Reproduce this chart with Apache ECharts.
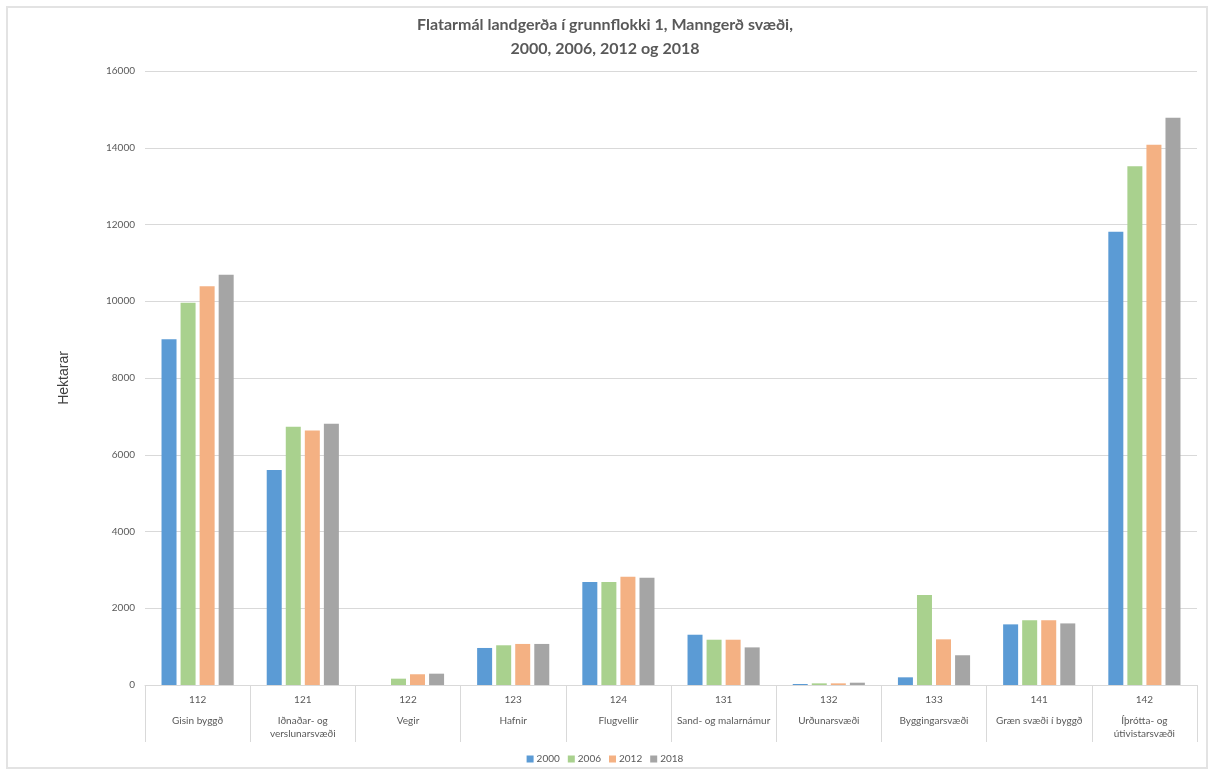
<!DOCTYPE html>
<html>
<head>
<meta charset="utf-8">
<script src="https://cdn.jsdelivr.net/npm/echarts@6/dist/echarts.min.js"></script>
<style>
html,body{margin:0;padding:0;background:#fff;}
#chart{width:1210px;height:770px;}
</style>
</head>
<body>
<div id="chart"></div>
<script>
const codes = ['112','121','122','123','124','131','132','133','141','142'];
const names = ['Gisin byggð','Iðnaðar- og\nverslunarsvæði','Vegir','Hafnir','Flugvellir','Sand- og malarnámur','Urðunarsvæði','Byggingarsvæði','Græn svæði í byggð','Íþrótta- og\nútivistarsvæði'];
const years = ['2000','2006','2012','2018'];
const v2000 = [9010, 5600, 0, 965, 2685, 1310, 26, 200, 1580, 11810];
const v2006 = [9960, 6730, 165, 1035, 2685, 1180, 43, 2345, 1685, 13515];
const v2012 = [10390, 6635, 280, 1070, 2820, 1180, 43, 1190, 1685, 14080];
const v2018 = [10690, 6810, 295, 1070, 2795, 980, 60, 775, 1605, 14780];
const yTicks = [0, 2000, 4000, 6000, 8000, 10000, 12000, 14000, 16000];

const colors = ['#5B9BD5', '#A9D18E', '#F4B183', '#A5A5A5'];
const seriesData = [v2000, v2006, v2012, v2018];

const chart = echarts.init(document.getElementById('chart'));
chart.setOption({
  animation: false,
  backgroundColor: '#fff',
  title: {
    text: 'Flatarmál landgerða í grunnflokki 1, Manngerð svæði,\n2000, 2006, 2012 og 2018',
    left: 'center',
    top: 8,
    textStyle: { fontFamily: 'Lato', fontWeight: 'bold', fontSize: 16, color: '#595959', lineHeight: 24 }
  },
  legend: {
    data: years,
    left: 'center',
    top: 749,
    itemWidth: 7,
    itemHeight: 7,
    itemGap: 8,
    icon: 'rect',
    textStyle: { fontFamily: 'Lato', fontSize: 10, color: '#595959', padding: [0,0,0,-2] }
  },
  grid: { left: 145, right: 13, top: 71, bottom: 85 },
  xAxis: {
    type: 'category',
    data: codes,
    axisLine: { lineStyle: { color: '#d9d9d9', width: 1 } },
    axisTick: { show: true, interval: 0, length: 57, lineStyle: { color: '#d9d9d9' } },
    axisLabel: {
      interval: 0,
      margin: 0,
      formatter: function (val, idx) {
        const lines = names[idx].split('\n').map(s => '{b|' + s + '}').join('\n');
        return '{a|' + val + '}\n' + lines;
      },
      rich: {
        a: { fontFamily: 'Lato', fontSize: 10, color: '#595959', lineHeight: 30, align: 'center' },
        b: { fontFamily: 'Lato', fontSize: 10, color: '#595959', lineHeight: 12.5, align: 'center' }
      }
    }
  },
  yAxis: {
    type: 'value',
    min: yTicks[0],
    max: yTicks[yTicks.length - 1],
    interval: yTicks[1] - yTicks[0],
    axisLine: { show: false },
    axisTick: { show: false },
    axisLabel: { fontFamily: 'Lato', fontSize: 10, color: '#595959', margin: 10, formatter: v => String(v) },
    splitLine: { lineStyle: { color: '#d9d9d9', width: 1 } }
  },
  series: years.map((y, i) => ({
    name: y,
    type: 'bar',
    data: seriesData[i],
    barWidth: 15,
    barGap: '27%',
    itemStyle: { color: colors[i] }
  })),
  graphic: [
    {
      type: 'rect',
      shape: { x: 7, y: 7, width: 1200, height: 761 },
      style: { fill: 'none', stroke: '#e3e3e3', lineWidth: 2 },
      silent: true, z: -1
    },
    {
      type: 'text',
      x: 64, y: 378,
      rotation: Math.PI / 2,
      style: {
        text: 'Hektarar',
        fontFamily: 'Liberation Sans',
        fontSize: 14,
        fill: '#404040',
        textAlign: 'center',
        textVerticalAlign: 'middle'
      }
    }
  ]
});
</script>
</body>
</html>
